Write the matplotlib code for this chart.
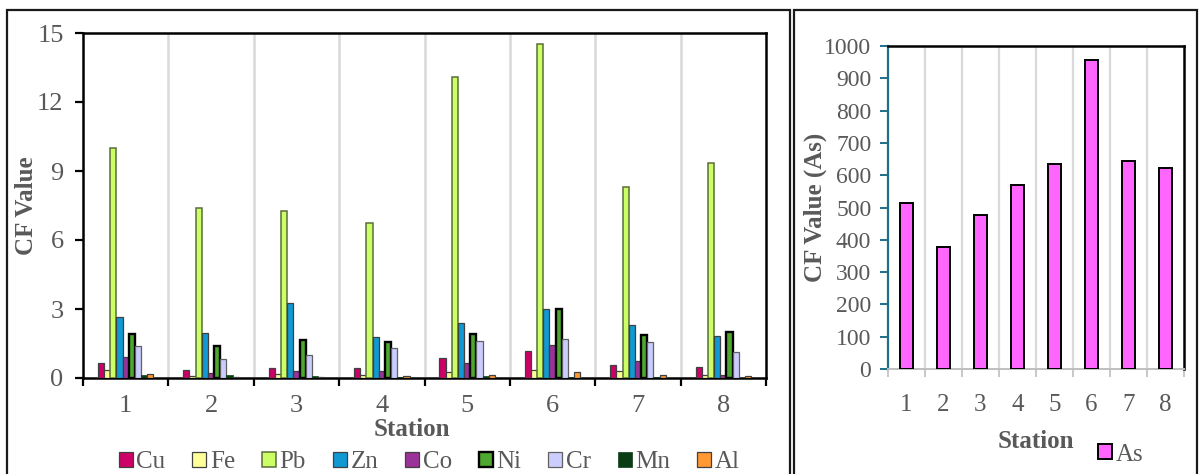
import numpy as np
import matplotlib
matplotlib.use('Agg')
import matplotlib.pyplot as plt
from matplotlib.patches import Rectangle
from matplotlib.ticker import FixedLocator

plt.rcParams['font.family'] = ['Liberation Serif', 'DejaVu Serif']

stations = ['1', '2', '3', '4', '5', '6', '7', '8']
metals = ['Cu', 'Fe', 'Pb', 'Zn', 'Co', 'Ni', 'Cr', 'Mn', 'Al']

cu = [0.65, 0.33, 0.42, 0.42, 0.87, 1.17, 0.55, 0.46]
fe = [0.33, 0.07, 0.16, 0.14, 0.25, 0.33, 0.29, 0.12]
pb = [10.0, 7.38, 7.25, 6.74, 13.1, 14.52, 8.3, 9.35]
zn = [2.65, 1.95, 3.25, 1.78, 2.4, 3.02, 2.32, 1.82]
co = [0.92, 0.2, 0.3, 0.29, 0.64, 1.44, 0.72, 0.12]
ni = [1.92, 1.4, 1.66, 1.58, 1.9, 2.98, 1.85, 2.02]
cr = [1.4, 0.84, 0.98, 1.32, 1.6, 1.68, 1.56, 1.15]
mn = [0.13, 0.12, 0.07, 0.06, 0.1, 0.04, 0.05, 0.01]
al = [0.17, 0.04, 0.06, 0.08, 0.14, 0.25, 0.14, 0.07]
as_vals = [513, 379, 476, 570, 634, 958, 643, 621]

series = [cu, fe, pb, zn, co, ni, cr, mn, al]
colors = ['#CC0066', '#FFFF99', '#CCFF66', '#1199D4', '#993399',
          '#4EA72E', '#CCCCFF', '#0B3D14', '#FF9933']
edges = ['#404040', '#404040', '#5A6E3A', '#404040', '#404040',
         '#000000', '#606060', '#0B3D14', '#404040']
edge_w = [0.9, 0.9, 1.1, 0.9, 0.9, 1.7, 0.9, 0.5, 0.9]

grey = '#595959'

fig = plt.figure(figsize=(11.99, 4.74), dpi=100)

# panel frames
fig.patches.append(Rectangle((7 / 1199, -0.05), 783 / 1199, 1.05 - 10 / 474,
                             transform=fig.transFigure, fill=False,
                             edgecolor='#1a1a1a', linewidth=1.6))
fig.patches.append(Rectangle((794 / 1199, -0.05), 403 / 1199, 1.05 - 10 / 474,
                             transform=fig.transFigure, fill=False,
                             edgecolor='#1a1a1a', linewidth=1.6))

# ---- left chart: heavy metals ----
ax = fig.add_axes([83 / 1199, 1 - 378 / 474, 683 / 1199, 345 / 474])
x = np.arange(1, len(stations) + 1)
bw = 0.65 / len(metals)
for i, (vals, name) in enumerate(zip(series, metals)):
    off = (i - (len(metals) - 1) / 2) * bw
    ax.bar(x + off, vals, width=bw, color=colors[i], edgecolor=edges[i],
           linewidth=edge_w[i], label=name, zorder=3)

ax.set_xlim(0.5, len(stations) + 0.5)
ax.set_ylim(0, 15)
ax.set_yticks([0, 3, 6, 9, 12, 15])
ax.set_xticks(x)
ax.set_xticklabels(stations)
ax.xaxis.set_minor_locator(FixedLocator(np.arange(0.5, len(stations) + 1, 1)))
ax.tick_params(axis='x', which='major', length=0, pad=12, labelsize=19, labelcolor=grey)
ax.tick_params(axis='x', which='minor', length=6, width=1.6, direction='out')
ax.tick_params(axis='y', length=6, width=1.6, labelsize=19, labelcolor=grey, pad=8)
for xb in np.arange(1.5, len(stations), 1):
    ax.axvline(xb, color='#D9D9D9', linewidth=1.8, zorder=1)
for s in ax.spines.values():
    s.set_linewidth(1.8)
    s.set_color('black')
ax.set_ylabel('CF Value', fontsize=18, fontweight='bold', color=grey)
ax.yaxis.set_label_coords(-0.066, 0.5)
ax.set_xlabel('Station', fontsize=18, fontweight='bold', color=grey)
ax.xaxis.set_label_coords(0.482, -0.116)

leg = ax.legend(loc='upper center', bbox_to_anchor=(0.507, -0.183), ncol=9,
                frameon=False, fontsize=18, handlelength=0.55, handleheight=0.55,
                handletextpad=0.15, columnspacing=1.08, borderaxespad=0)
for t in leg.get_texts():
    t.set_color(grey)

# ---- right chart: As ----
ax2 = fig.add_axes([888 / 1199, 1 - 369 / 474, 296 / 1199, 323 / 474])
ax2.bar(x, as_vals, width=0.34, color='#FF66FF', edgecolor='black',
        linewidth=1.4, label='As', zorder=3)
ax2.set_xlim(0.5, len(stations) + 0.5)
ax2.set_ylim(0, 1000)
ax2.set_yticks(np.arange(0, 1001, 100))
ax2.set_xticks(x)
ax2.set_xticklabels(stations)
ax2.xaxis.set_minor_locator(FixedLocator(np.arange(0.5, len(stations) + 1, 1)))
ax2.tick_params(axis='x', which='major', length=0, pad=18, labelsize=18, labelcolor=grey)
ax2.tick_params(axis='x', which='minor', length=6, width=1.2, color='#BFBFBF', direction='out')
ax2.tick_params(axis='y', length=6, width=1.4, color='#1F6F8B', labelsize=17,
                labelcolor=grey, pad=6)
for xb in np.arange(1.5, len(stations), 1):
    ax2.axvline(xb, color='#D9D9D9', linewidth=1.6, zorder=1)
ax2.spines['left'].set_color('#1F6F8B')
ax2.spines['left'].set_linewidth(1.6)
ax2.spines['bottom'].set_color('#BFBFBF')
ax2.spines['bottom'].set_linewidth(1.4)
for k in ['top', 'right']:
    ax2.spines[k].set_color('black')
    ax2.spines[k].set_linewidth(1.8)
ax2.set_ylabel('CF Value (As)', fontsize=18, fontweight='bold', color=grey)
ax2.yaxis.set_label_coords(-0.207, 0.5)
ax2.set_xlabel('Station', fontsize=18, fontweight='bold', color=grey)
ax2.xaxis.set_label_coords(0.5, -0.189)
leg2 = ax2.legend(loc='center', bbox_to_anchor=(0.787, -0.265), frameon=False,
                  fontsize=18, handlelength=0.55, handleheight=0.55,
                  handletextpad=0.15, borderaxespad=0)
for t in leg2.get_texts():
    t.set_color(grey)

fig.savefig('out.png', dpi=100)
